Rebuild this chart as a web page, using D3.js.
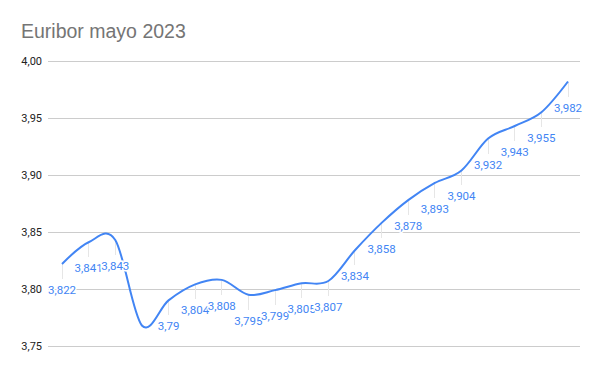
<!DOCTYPE html>
<html><head><meta charset="utf-8">
<script src="https://cdn.jsdelivr.net/npm/d3@7/dist/d3.min.js"></script>
<style>body{margin:0;background:#fff}</style>
</head><body>
<script>
const title = "Euribor mayo 2023";
const values = [3.822, 3.841, 3.843, 3.768, 3.79, 3.804, 3.808, 3.795, 3.799, 3.805, 3.807, 3.834, 3.858, 3.878, 3.893, 3.904, 3.932, 3.943, 3.955, 3.982];
const labels = ["3,822", "3,841", "3,843", null, "3,79", "3,804", "3,808", "3,795", "3,799", "3,805", "3,807", "3,834", "3,858", "3,878", "3,893", "3,904", "3,932", "3,943", "3,955", "3,982"];
const yTicks = [3.75, 3.80, 3.85, 3.90, 3.95, 4.00];
const yTickLabels = ["3,75", "3,80", "3,85", "3,90", "3,95", "4,00"];

const W = 600, H = 371;
const svg = d3.select("body").append("svg").attr("width", W).attr("height", H);
svg.append("rect").attr("width", W).attr("height", H).attr("fill", "#fff");

const x = d3.scalePoint().domain(d3.range(values.length)).range([62, 568]);
const y = d3.scaleLinear().domain([3.75, 4.00]).range([346, 61]);

svg.append("text").attr("x", 21).attr("y", 38).text(title)
  .attr("font-family", "'Liberation Sans', Arial, sans-serif").attr("font-size", 19.5).attr("fill", "#757575");

const grid = svg.append("g");
grid.selectAll("line").data(yTicks).join("line")
  .attr("x1", 48).attr("x2", 580).attr("y1", d => y(d)).attr("y2", d => y(d))
  .attr("stroke", "#cccccc").attr("stroke-width", 1).attr("shape-rendering", "crispEdges");
grid.selectAll("text").data(yTicks).join("text")
  .attr("x", 42).attr("y", d => y(d) + 4).attr("text-anchor", "end")
  .attr("font-family", "Roboto, Arial, sans-serif").attr("font-size", 11).attr("fill", "#222")
  .text((d, i) => yTickLabels[i]);

const pts = values.map((v, i) => ({i, v, l: labels[i]}));
const lab = pts.filter(d => d.l);

svg.append("g").selectAll("line").data(lab).join("line")
  .attr("x1", d => x(d.i)).attr("x2", d => x(d.i))
  .attr("y1", d => y(d.v)).attr("y2", d => y(d.v) + 15)
  .attr("stroke", "#e6e6e6").attr("stroke-width", 1).attr("shape-rendering", "crispEdges");

const line = d3.line().x(d => x(d.i)).y(d => y(d.v)).curve(d3.curveCatmullRom.alpha(0));
svg.append("path").datum(pts).attr("d", line).attr("fill", "none")
  .attr("stroke", "#4285F4").attr("stroke-width", 2);

svg.append("g").selectAll("text").data(lab).join("text")
  .attr("x", d => x(d.i)).attr("y", d => y(d.v) + 30).attr("text-anchor", "middle")
  .attr("font-family", "Roboto, Arial, sans-serif").attr("font-size", 11.5).attr("fill", "#4285F4")
  .attr("stroke", "#fff").attr("stroke-width", 3).attr("paint-order", "stroke")
  .text(d => d.l);
</script>
</body></html>
